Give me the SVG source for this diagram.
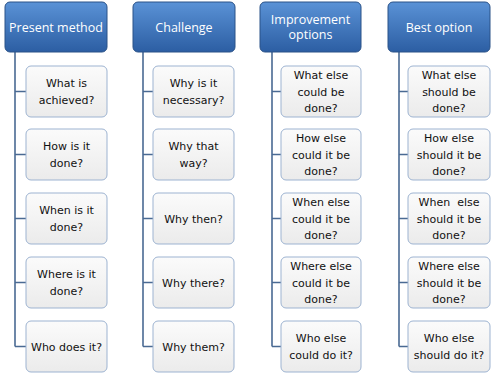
<svg xmlns="http://www.w3.org/2000/svg" width="498" height="376" viewBox="0 0 498 376">
<defs>
<linearGradient id="hg" x1="0" y1="0" x2="0" y2="1">
<stop offset="0" stop-color="#5a92d6"/>
<stop offset="1" stop-color="#2c5ea3"/>
</linearGradient>
<linearGradient id="bg" x1="0" y1="0" x2="0" y2="1">
<stop offset="0" stop-color="#fbfbfb"/>
<stop offset="1" stop-color="#ebebeb"/>
</linearGradient>
<style>
.h{fill:url(#hg);stroke:#2a5288;stroke-width:1}
.ht{fill:#ffffff;font-family:"Open Sans","Liberation Sans",sans-serif;font-size:12.5px;text-anchor:middle}
.b{fill:url(#bg);stroke:#9db3d1;stroke-width:1}
.bt{fill:#111111;font-family:"DejaVu Sans","Liberation Sans",sans-serif;font-size:11px;text-anchor:middle}
.c{fill:none;stroke:#4a6a93;stroke-width:1.6}
</style>
</defs>
<g id="connectors">
<path class="c" d="M15 52V346.5M15 91.5H26M15 154.5H26M15 218.5H26M15 282.5H26M15 346.5H26"/>
<path class="c" d="M143 52V346.5M143 91.5H153M143 154.5H153M143 218.5H153M143 282.5H153M143 346.5H153"/>
<path class="c" d="M272 52V346.5M272 91.5H281M272 154.5H281M272 218.5H281M272 282.5H281M272 346.5H281"/>
<path class="c" d="M399 52V346.5M399 91.5H408M399 154.5H408M399 218.5H408M399 282.5H408M399 346.5H408"/>
</g>
<g id="h1"><rect class="h" x="5" y="2" width="102" height="50" rx="5"/><text class="ht" x="56" y="31.5">Present method</text></g>
<g id="h2"><rect class="h" x="133" y="2" width="102" height="50" rx="5"/><text class="ht" x="184" y="31.5">Challenge</text></g>
<g id="h3"><rect class="h" x="260" y="2" width="101" height="50" rx="5"/><text class="ht" x="310.5" y="23.5">Improvement</text><text class="ht" x="310.5" y="39">options</text></g>
<g id="h4"><rect class="h" x="388" y="2" width="102" height="50" rx="5"/><text class="ht" x="439" y="31.5">Best option</text></g>

<g id="c1r1"><rect class="b" x="26" y="66" width="81" height="51" rx="5"/><text class="bt" x="66.5" y="87">What is</text><text class="bt" x="66.5" y="104">achieved?</text></g>
<g id="c1r2"><rect class="b" x="26" y="129" width="81" height="51" rx="5"/><text class="bt" x="66.5" y="150">How is it</text><text class="bt" x="66.5" y="167">done?</text></g>
<g id="c1r3"><rect class="b" x="26" y="193" width="81" height="51" rx="5"/><text class="bt" x="66.5" y="214">When is it</text><text class="bt" x="66.5" y="231">done?</text></g>
<g id="c1r4"><rect class="b" x="26" y="257" width="81" height="51" rx="5"/><text class="bt" x="66.5" y="278">Where is it</text><text class="bt" x="66.5" y="295">done?</text></g>
<g id="c1r5"><rect class="b" x="26" y="321" width="81" height="51" rx="5"/><text class="bt" x="66.5" y="350.5">Who does it?</text></g>

<g id="c2r1"><rect class="b" x="153" y="66" width="81" height="51" rx="5"/><text class="bt" x="193.5" y="87">Why is it</text><text class="bt" x="193.5" y="104">necessary?</text></g>
<g id="c2r2"><rect class="b" x="153" y="129" width="81" height="51" rx="5"/><text class="bt" x="193.5" y="150">Why that</text><text class="bt" x="193.5" y="167">way?</text></g>
<g id="c2r3"><rect class="b" x="153" y="193" width="81" height="51" rx="5"/><text class="bt" x="193.5" y="222.5">Why then?</text></g>
<g id="c2r4"><rect class="b" x="153" y="257" width="81" height="51" rx="5"/><text class="bt" x="193.5" y="286.5">Why there?</text></g>
<g id="c2r5"><rect class="b" x="153" y="321" width="81" height="51" rx="5"/><text class="bt" x="193.5" y="350.5">Why them?</text></g>

<g id="c3r1"><rect class="b" x="281" y="66" width="80" height="51" rx="5"/><text class="bt" x="321" y="78.5">What else</text><text class="bt" x="321" y="95.5">could be</text><text class="bt" x="321" y="112">done?</text></g>
<g id="c3r2"><rect class="b" x="281" y="129" width="80" height="51" rx="5"/><text class="bt" x="321" y="141.5">How else</text><text class="bt" x="321" y="158.5">could it be</text><text class="bt" x="321" y="175">done?</text></g>
<g id="c3r3"><rect class="b" x="281" y="193" width="80" height="51" rx="5"/><text class="bt" x="321" y="205.5">When else</text><text class="bt" x="321" y="222.5">could it be</text><text class="bt" x="321" y="239">done?</text></g>
<g id="c3r4"><rect class="b" x="281" y="257" width="80" height="51" rx="5"/><text class="bt" x="321" y="269.5">Where else</text><text class="bt" x="321" y="286.5">could it be</text><text class="bt" x="321" y="303">done?</text></g>
<g id="c3r5"><rect class="b" x="281" y="321" width="80" height="51" rx="5"/><text class="bt" x="321" y="342">Who else</text><text class="bt" x="321" y="359">could do it?</text></g>

<g id="c4r1"><rect class="b" x="408" y="66" width="82" height="51" rx="5"/><text class="bt" x="449" y="78.5">What else</text><text class="bt" x="449" y="95.5">should be</text><text class="bt" x="449" y="112">done?</text></g>
<g id="c4r2"><rect class="b" x="408" y="129" width="82" height="51" rx="5"/><text class="bt" x="449" y="141.5">How else</text><text class="bt" x="449" y="158.5">should it be</text><text class="bt" x="449" y="175">done?</text></g>
<g id="c4r3"><rect class="b" x="408" y="193" width="82" height="51" rx="5"/><text class="bt" x="449" y="205.5" xml:space="preserve">When  else</text><text class="bt" x="449" y="222.5">should it be</text><text class="bt" x="449" y="239">done?</text></g>
<g id="c4r4"><rect class="b" x="408" y="257" width="82" height="51" rx="5"/><text class="bt" x="449" y="269.5">Where else</text><text class="bt" x="449" y="286.5">should it be</text><text class="bt" x="449" y="303">done?</text></g>
<g id="c4r5"><rect class="b" x="408" y="321" width="82" height="51" rx="5"/><text class="bt" x="449" y="342">Who else</text><text class="bt" x="449" y="359">should do it?</text></g>
</svg>
